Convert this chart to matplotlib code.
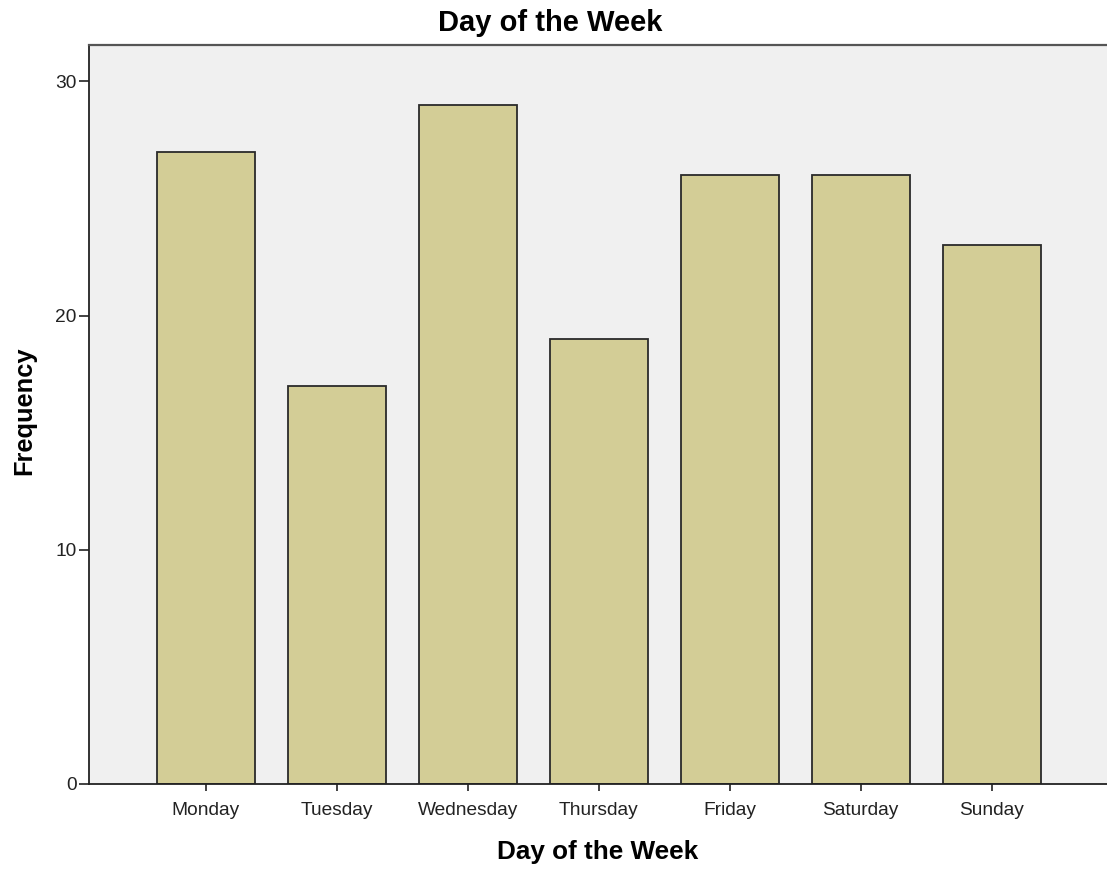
import matplotlib
matplotlib.use("Agg")
import matplotlib.pyplot as plt

days = ["Monday", "Tuesday", "Wednesday", "Thursday", "Friday", "Saturday", "Sunday"]
frequency = [27, 17, 29, 19, 26, 26, 23]
y_ticks = [0, 10, 20, 30]

plt.rcParams['font.family'] = ['Liberation Sans', 'DejaVu Sans']

fig = plt.figure(figsize=(11.07, 8.69), dpi=100)
ax = fig.add_axes([89/1107, 1-784/869, 1-89/1107, (784-45)/869])
ax.set_facecolor('#F0F0F0')

x = list(range(len(days)))
ax.bar(x, frequency, width=0.75, color='#D3CD96', edgecolor='#2a2a2a', linewidth=1.3, zorder=2)

ax.set_xlim(-0.893, 6.88)
ax.set_ylim(0, 31.55)
ax.set_xticks(x)
ax.set_xticklabels(days, fontsize=13.8, color='#222222')
ax.set_yticks(y_ticks)
ax.set_yticklabels([str(v) for v in y_ticks], fontsize=13.8, color='#222222')
ax.tick_params(axis='x', length=5, width=1.2, color='#222222', pad=8)
ax.tick_params(axis='y', length=7, width=1.2, color='#222222', pad=2)

for s in ['left', 'bottom']:
    ax.spines[s].set_linewidth(1.3)
    ax.spines[s].set_color('#222222')
ax.spines['top'].set_linewidth(1.6)
ax.spines['top'].set_color('#555555')
ax.spines['right'].set_visible(False)

fig.text(0.497, 1 - 23/869, "Day of the Week", fontsize=21, fontweight='bold',
         ha='center', va='center')
ax.set_xlabel("Day of the Week", fontsize=18.8, fontweight='bold', labelpad=15)
ax.set_ylabel("Frequency", fontsize=18.3, fontweight='bold')
ax.yaxis.set_label_coords(-0.052, 0.505)

fig.savefig("out.png", dpi=100)
